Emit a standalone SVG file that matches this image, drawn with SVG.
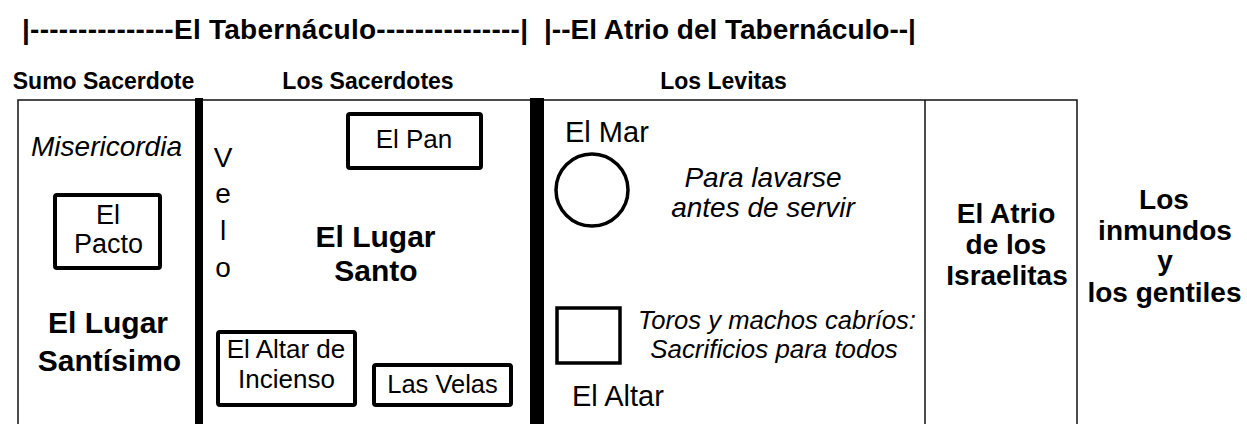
<svg xmlns="http://www.w3.org/2000/svg" width="1247" height="424" viewBox="0 0 1247 424">
<style>
text{font-family:"Liberation Sans",Arial,sans-serif;fill:#000}
.b{font-weight:bold}
.i{font-style:italic}
.c{text-anchor:middle}
.t{font-size:28px;font-weight:bold}
.h{font-size:23px;font-weight:bold}
.box{fill:#fff;stroke:#000;stroke-width:4}
.thin{fill:none;stroke:#111;stroke-width:1.5}
</style>
<rect width="1247" height="424" fill="#fff"/>
<g id="titles">
<text class="t" x="22" y="39" textLength="506" lengthAdjust="spacing">|---------------El Tabernáculo---------------|</text>
<text class="t" x="544" y="39">|--El Atrio del Tabernáculo--|</text>
</g>
<g id="headers">
<text class="h c" x="103.5" y="89">Sumo Sacerdote</text>
<text class="h c" x="368" y="89">Los Sacerdotes</text>
<text class="h c" x="723.5" y="89">Los Levitas</text>
</g>
<g id="walls">
<path class="thin" d="M18,424 V100 H1077 V424"/>
<line class="thin" x1="925" y1="100" x2="925" y2="424"/>
<rect x="195" y="98" width="8" height="326" fill="#000"/>
<rect x="530" y="98" width="14" height="326" fill="#000"/>
</g>
<g id="lugar-santisimo">
<text class="i c" x="106.5" y="156" font-size="28">Misericordia</text>
<text class="b c" x="108" y="333" font-size="30">El Lugar</text>
<text class="b c" x="109.5" y="371" font-size="30">Santísimo</text>
</g>
<g id="el-pacto">
<rect class="box" x="55" y="195" width="105" height="73" rx="2"/>
<text class="c" x="108" y="224" font-size="27">El</text>
<text class="c" x="108.5" y="253" font-size="27">Pacto</text>
</g>
<g id="velo">
<text class="c" x="223" y="167" font-size="28">V</text>
<text class="c" x="223" y="203" font-size="28">e</text>
<text class="c" x="223" y="240" font-size="28">l</text>
<text class="c" x="223" y="277" font-size="28">o</text>
</g>
<g id="lugar-santo">
<text class="b c" x="375.5" y="247" font-size="30">El Lugar</text>
<text class="b c" x="376" y="281" font-size="30">Santo</text>
</g>
<g id="el-pan">
<rect class="box" x="348" y="114" width="133" height="54" rx="2"/>
<text class="c" x="414" y="148" font-size="26">El Pan</text>
</g>
<g id="altar-incienso">
<rect class="box" x="218" y="332" width="137" height="73" rx="2"/>
<text class="c" x="286" y="358" font-size="26">El Altar de</text>
<text class="c" x="286.5" y="388" font-size="26">Incienso</text>
</g>
<g id="las-velas">
<rect class="box" x="374" y="365" width="137" height="40" rx="2"/>
<text class="c" x="442.5" y="393" font-size="25.5">Las Velas</text>
</g>
<g id="el-mar">
<text x="565" y="142" font-size="29">El Mar</text>
<circle cx="592" cy="190" r="36" fill="#fff" stroke="#000" stroke-width="3.5"/>
<text class="i c" x="763" y="187" font-size="28">Para lavarse</text>
<text class="i c" x="763" y="217" font-size="28">antes de servir</text>
</g>
<g id="el-altar">
<rect x="557" y="308" width="63" height="55" fill="#fff" stroke="#000" stroke-width="3.5"/>
<text class="i c" x="777" y="329" font-size="25.6">Toros y machos cabríos:</text>
<text class="i c" x="774" y="358" font-size="25.9">Sacrificios para todos</text>
<text x="572" y="406" font-size="29">El Altar</text>
</g>
<g id="atrio-israelitas">
<text class="b c" x="1006" y="223" font-size="28">El Atrio</text>
<text class="b c" x="1006" y="254" font-size="28">de los</text>
<text class="b c" x="1007" y="285" font-size="28">Israelitas</text>
</g>
<g id="gentiles">
<text class="b c" x="1164" y="209" font-size="28">Los</text>
<text class="b c" x="1165" y="240" font-size="28">inmundos</text>
<text class="b c" x="1165" y="270" font-size="28">y</text>
<text class="b c" x="1164.5" y="302" font-size="28">los gentiles</text>
</g>
</svg>
